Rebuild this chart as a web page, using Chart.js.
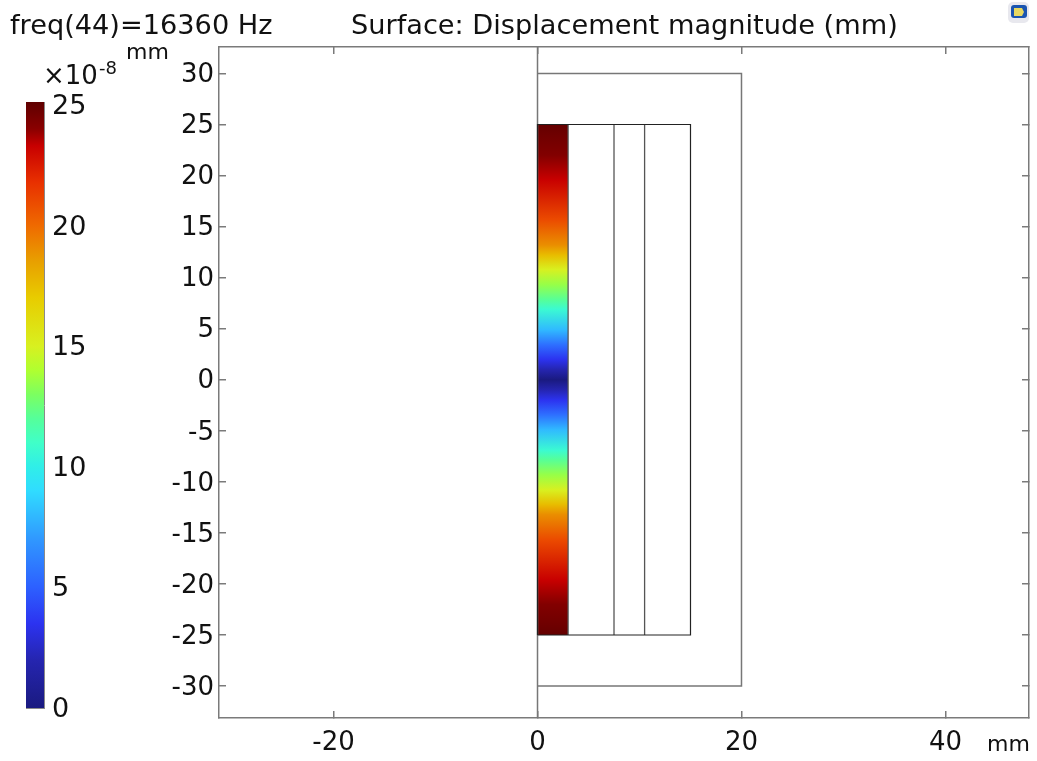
<!DOCTYPE html>
<html>
<head>
<meta charset="utf-8">
<style>
  html, body { margin: 0; padding: 0; background: #fff; overflow: hidden; }
  #wrap { position: relative; width: 1037px; height: 761px; }
  canvas { position: absolute; left: 0; top: 0; }
</style>
<script src="https://cdn.jsdelivr.net/npm/chart.js@4"></script>
</head>
<body>
<div id="wrap">
  <canvas id="plot" width="1037" height="761"></canvas>
  <canvas id="bar" width="130" height="761"></canvas>
</div>
<script>
const xTicks = [-20, 0, 20, 40];
const yTicks = [-30, -25, -20, -15, -10, -5, 0, 5, 10, 15, 20, 25, 30];
const barTicks = [0, 5, 10, 15, 20, 25];

// geometry outlines, mm
const outerX = [0, 20, 20, 0];
const outerY = [-30, -30, 30, 30];
const symAxisX = [0, 0];
const symAxisY = [-33.13, 32.59];
const innerX = [0, 15, 15, 0, 0];
const innerY = [-25, -25, 25, 25, -25];
const dividerX = [3, 7.5, 10.5];
const dividerY = [-25, 25];

// displacement magnitude along the strip (x 0..3), x10^-8 mm
const stripY = [-25, -24, -22, -19.6, -15.7, -13.2, -12.2, -10.8, -9.3, -7.8, -6.9, -4.9, -3.4, -2, -1, 0,
  1, 2, 3.4, 4.9, 6.9, 7.8, 9.3, 10.8, 12.2, 13.2, 15.7, 19.6, 22, 24, 25];
const stripMag = [25, 24.7, 24.2, 23.3, 21, 19, 17.5, 15, 13.5, 12, 10.7, 8, 5.5, 3.5, 2, 0,
  2, 3.5, 5.5, 8, 10.7, 12, 13.5, 15, 17.5, 19, 21, 23.3, 24.2, 24.7, 25];

// colour table
const legendValues = [0, 2, 3.5, 5, 7, 9, 10, 11, 12, 13, 14, 15, 17, 18.5, 20, 21.8, 23.3, 24, 25.12];
const legendColors = ["#1a1a80", "#2525b0", "#2c33f0", "#2d60ff", "#3098ff", "#30dcff", "#30eee8", "#40ffc8",
  "#55ff9a", "#7cff60", "#b0ff30", "#d8f020", "#e8cc00", "#e8a000", "#ef6a00", "#e83000", "#c80000", "#8a0000", "#5f0000"];

const FONT = "'DejaVu Sans'";

function colorFor(v) {
  const rgb = (h) => [1, 3, 5].map((i) => parseInt(h.slice(i, i + 2), 16));
  let i = legendValues.findIndex((lv) => lv >= v);
  if (i <= 0) return legendColors[0];
  const t = (v - legendValues[i - 1]) / (legendValues[i] - legendValues[i - 1]);
  const a = rgb(legendColors[i - 1]), b = rgb(legendColors[i]);
  const c = a.map((p, k) => Math.round(p + (b[k] - p) * t));
  return "rgb(" + c.join(",") + ")";
}

function yGradient(chart, ys, colors) {
  const scale = chart.scales.y;
  if (!scale) return colors[0];
  const top = scale.getPixelForValue(ys[ys.length - 1]);
  const bottom = scale.getPixelForValue(ys[0]);
  // scales have no pixels yet on the very first option pass
  if (!isFinite(top) || !isFinite(bottom)) return colors[0];
  const g = chart.ctx.createLinearGradient(0, bottom, 0, top);
  ys.forEach((y, i) => g.addColorStop((y - ys[0]) / (ys[ys.length - 1] - ys[0]), colors[i]));
  return g;
}

function outline(xs, ys, color, width, order) {
  return {
    data: xs.map((x, i) => ({ x: x, y: ys[i] })),
    showLine: true,
    borderColor: color,
    borderWidth: width,
    pointRadius: 0,
    fill: false,
    order: order,
  };
}

function fixedAxis(id, size, extra) {
  return Object.assign({
    afterFit: (s) => {
      if (s.isHorizontal()) s.height = size;
      else s.width = size;
    },
  }, extra);
}

// the reference's digits sit a little lower than canvas "middle" puts them
const nudgeLabels = {
  id: "nudgeLabels",
  beforeDraw(chart) {
    Object.values(chart.scales).forEach((s) => {
      if (s.isHorizontal() || !s.options.ticks.display) return;
      s.getLabelItems().forEach((item) => {
        item.options.translation = [item.options.translation[0], item.options.translation[1] + 2];
      });
    });
  },
};

const plainText = {
  id: "plainText",
  afterDraw(chart) {
    const ctx = chart.ctx;
    ctx.save();
    ctx.fillStyle = "#111";
    ctx.textBaseline = "alphabetic";
    ctx.textAlign = "left";
    ctx.font = "27.2px " + FONT;
    ctx.fillText("freq(44)=16360 Hz", 10, 34);
    ctx.fillText("Surface: Displacement magnitude (mm)", 351, 34);
    ctx.font = "22px " + FONT;
    ctx.fillText("mm", 126, 59);
    ctx.fillText("mm", 987, 751);
    ctx.font = "26px " + FONT;
    ctx.fillText("\u00d710", 43, 84);
    ctx.font = "18px " + FONT;
    ctx.fillText("-8", 99, 74);
    // little window badge top right
    ctx.fillStyle = "#e8e8ee";
    ctx.beginPath();
    ctx.roundRect(1008, 2, 21, 21, 5);
    ctx.fill();
    ctx.fillStyle = "#1b55b0";
    ctx.beginPath();
    ctx.roundRect(1011, 5, 16, 13, 3);
    ctx.fill();
    ctx.fillStyle = "#e8d860";
    ctx.beginPath();
    ctx.moveTo(1014, 8);
    ctx.lineTo(1022, 8);
    ctx.lineTo(1024, 12);
    ctx.lineTo(1022, 16);
    ctx.lineTo(1014, 16);
    ctx.fill();
    ctx.restore();
  },
};

const AXIS_GRAY = "#7a7a7a";

function plotAxis(position, size, ticks, showLabels, pad) {
  return fixedAxis(position, size, {
    type: "linear",
    position: position,
    afterBuildTicks: (s) => { s.ticks = ticks.map((v) => ({ value: v })); },
    border: { display: true, color: AXIS_GRAY, width: 1.5 },
    grid: { drawOnChartArea: false, drawTicks: true, tickLength: -7, color: AXIS_GRAY, lineWidth: 1.5 },
    ticks: {
      display: showLabels,
      autoSkip: false,
      maxRotation: 0,
      padding: pad,
      color: "#111",
      font: { family: FONT, size: 26 },
    },
  });
}

const xMin = -31.23, xMax = 48.19, yMin = -33.13, yMax = 32.59;
const range = (axis, lo, hi) => Object.assign(axis, { min: lo, max: hi });

new Chart(document.getElementById("plot"), {
  type: "scatter",
  data: {
    datasets: [
      {
        data: [{ x: 0, y: 25 }, { x: 3, y: 25 }],
        showLine: true,
        borderWidth: 0,
        pointRadius: 0,
        fill: { value: -25 },
        backgroundColor: (ctx) => yGradient(ctx.chart, stripY, stripMag.map(colorFor)),
        order: 9,
      },
      outline(symAxisX, symAxisY, "#777", 1.5, 5),
      outline(outerX, outerY, "#777", 1.5, 5),
      outline(innerX, innerY, "#222", 1.2, 2),
      outline([dividerX[0], dividerX[0]], dividerY, "#555", 1.3, 2),
      outline([dividerX[1], dividerX[1]], dividerY, "#555", 1.3, 2),
      outline([dividerX[2], dividerX[2]], dividerY, "#555", 1.3, 2),
    ],
  },
  options: {
    responsive: false,
    animation: false,
    events: [],
    layout: { padding: { left: 0, top: 47, right: 8, bottom: 0 } },
    plugins: { legend: { display: false }, tooltip: { enabled: false } },
    scales: {
      x: range(plotAxis("bottom", 43, xTicks, true, 17), xMin, xMax),
      x2: range(plotAxis("top", 0, xTicks, false, 13), xMin, xMax),
      y: range(plotAxis("left", 219, yTicks, true, 12), yMin, yMax),
      y2: range(plotAxis("right", 0, yTicks, false, 13), yMin, yMax),
    },
  },
  plugins: [plainText, nudgeLabels],
});

function barAxis(position, size, showLabels) {
  return fixedAxis(position, size, {
    type: "linear",
    position: position,
    min: 0,
    max: 25.12,
    afterBuildTicks: (s) => { s.ticks = barTicks.map((v) => ({ value: v })); },
    border: { display: true, color: "#8a8a8a", width: 1 },
    grid: { drawOnChartArea: false, drawTicks: true, tickLength: -4, color: "#333", lineWidth: 1 },
    ticks: {
      display: showLabels,
      autoSkip: false,
      maxRotation: 0,
      padding: 12,
      color: "#111",
      font: { family: FONT, size: 27 },
    },
  });
}

function barEdge(position) {
  return fixedAxis(position, 0, {
    type: "linear",
    position: position,
    min: 0,
    max: 1,
    border: { display: true, color: "#8a8a8a", width: 1 },
    grid: { display: true, drawOnChartArea: false, drawTicks: false },
    ticks: { display: false },
  });
}

new Chart(document.getElementById("bar"), {
  type: "scatter",
  data: {
    datasets: [
      {
        data: [{ x: 0, y: 25.12 }, { x: 1, y: 25.12 }],
        showLine: true,
        borderWidth: 0,
        pointRadius: 0,
        fill: { value: 0 },
        backgroundColor: (ctx) => yGradient(ctx.chart, legendValues, legendColors),
      },
    ],
  },
  options: {
    responsive: false,
    animation: false,
    events: [],
    layout: { padding: { left: 26, top: 102, right: 0, bottom: 53 } },
    plugins: { legend: { display: false }, tooltip: { enabled: false } },
    scales: {
      x: barEdge("bottom"),
      x2: barEdge("top"),
      y: barAxis("right", 86, true),
      y2: barAxis("left", 0, false),
    },
  },
  plugins: [nudgeLabels],
});
</script>
</body>
</html>
